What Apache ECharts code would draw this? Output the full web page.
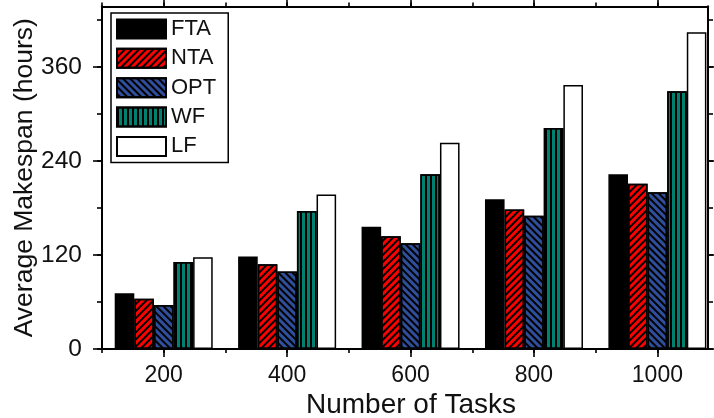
<!DOCTYPE html>
<html>
<head>
<meta charset="utf-8">
<script src="https://cdn.jsdelivr.net/npm/echarts@6/dist/echarts.min.js"></script>
<style>
  html, body { margin: 0; padding: 0; background: #fff; }
  #chart { width: 714px; height: 418px; }
</style>
</head>
<body>
<div id="chart"></div>
<script>
// Number of tasks on the x axis
const tasks = [200, 400, 600, 800, 1000];

// Average makespan (hours) per scheduling strategy
const FTA = [71, 118, 156, 191, 223];
const NTA = [64, 108, 144, 178, 211];
const OPT = [56, 99, 135, 170, 200];
const WF  = [111, 176, 223, 282, 329];
const LF  = [117, 197, 263, 337, 404];

// Tick positions
const xMajor = [200, 400, 600, 800, 1000];
const xMinor = [100, 200, 300, 400, 500, 600, 700, 800, 900, 1000];
const yMajor = [0, 120, 240, 360];
const yMinor = [0, 60, 120, 180, 240, 300, 360, 420];

const FONT = "'Liberation Sans', Arial, Helvetica, sans-serif";
const INK = '#111';

function pairs(vals) {
  return tasks.map((t, i) => [t, vals[i]]);
}

// diagonal hatching, black lines over the fill colour
const stripes = (rotation) => ({
  symbol: 'rect',
  symbolSize: 1,
  color: '#000',
  dashArrayX: [1, 0],
  dashArrayY: [1.5, 3],
  rotation: rotation
});

// vertical black lines
const verticalLines = {
  symbol: 'rect',
  symbolSize: 1,
  color: '#000',
  dashArrayX: [1.4, 3],
  dashArrayY: [1, 0],
  rotation: 0
};

function barSeries(name, vals, color, decal) {
  const itemStyle = { color: color, borderColor: '#000', borderWidth: 1.5 };
  if (decal) itemStyle.decal = decal;
  return {
    name: name,
    type: 'bar',
    xAxisIndex: 1,
    yAxisIndex: 1,
    barWidth: 19.6,
    barGap: '0%',
    data: pairs(vals),
    itemStyle: itemStyle,
    emphasis: { disabled: true }
  };
}

const lineStyle = { color: '#000', width: 2 };
const tickStyle = { color: '#000', width: 1.6 };

function xAx(position, ticks, length, withLabels) {
  const ax = {
    type: 'value',
    position: position,
    min: 100,
    max: 1082,
    axisLine: { show: true, onZero: false, lineStyle: lineStyle },
    axisTick: { show: true, customValues: ticks, length: length, inside: false, lineStyle: tickStyle },
    axisLabel: { show: false },
    splitLine: { show: false }
  };
  if (withLabels) {
    ax.axisLabel = {
      show: true,
      customValues: xMajor,
      formatter: (v) => String(v),
      margin: 15,
      fontFamily: FONT,
      fontSize: 23,
      color: INK
    };
    ax.name = 'Number of Tasks';
    ax.nameLocation = 'middle';
    ax.nameGap = 42;
    ax.nameMoveOverlap = false;
    ax.nameTextStyle = { fontFamily: FONT, fontSize: 28, color: INK, padding: [0, 0, 0, 12] };
  }
  return ax;
}

function yAx(position, ticks, length, withLabels) {
  const ax = {
    type: 'value',
    position: position,
    min: 0,
    max: 437,
    axisLine: { show: true, onZero: false, lineStyle: lineStyle },
    axisTick: { show: true, customValues: ticks, length: length, inside: false, lineStyle: tickStyle },
    axisLabel: { show: false },
    splitLine: { show: false }
  };
  if (withLabels) {
    ax.axisLabel = {
      show: true,
      customValues: yMajor,
      formatter: (v) => String(v),
      margin: 20,
      fontFamily: FONT,
      fontSize: 24.5,
      color: INK
    };
    ax.name = 'Average Makespan (hours)';
    ax.nameLocation = 'middle';
    ax.nameRotate = 90;
    ax.nameGap = 64;
    ax.nameMoveOverlap = false;
    ax.nameTextStyle = { fontFamily: FONT, fontSize: 26.5, color: INK };
  }
  return ax;
}

const chart = echarts.init(document.getElementById('chart'), null, { renderer: 'canvas' });

chart.setOption({
  animation: false,
  backgroundColor: '#fff',
  grid: {
    left: 102, right: 6, top: 6.5, bottom: 69,
    containLabel: false,
    outerBoundsMode: 'none'
  },
  legend: {
    orient: 'vertical',
    left: 111,
    top: 13,
    padding: [5, 12, 5, 5],
    itemWidth: 49,
    itemHeight: 19,
    itemGap: 7.35,
    icon: 'rect',
    borderColor: '#000',
    borderWidth: 1.5,
    backgroundColor: '#fff',
    textStyle: { fontFamily: FONT, fontSize: 22, color: INK },
    data: ['FTA', 'NTA', 'OPT', 'WF', 'LF']
  },
  xAxis: [
    xAx('bottom', xMinor, 4, false),
    xAx('bottom', xMajor, 8, true),
    xAx('top', xMinor, 4, false),
    xAx('top', xMajor, 8, false)
  ],
  yAxis: [
    yAx('left', yMinor, 5, false),
    yAx('left', yMajor, 9, true),
    yAx('right', yMinor, 5, false),
    yAx('right', yMajor, 9, false)
  ],
  series: [
    barSeries('FTA', FTA, '#000000', null),
    barSeries('NTA', NTA, '#ff0000', stripes(-Math.PI / 4)),
    barSeries('OPT', OPT, '#2f4e9c', stripes(Math.PI / 4)),
    barSeries('WF', WF, '#00806e', verticalLines),
    barSeries('LF', LF, '#ffffff', null)
  ]
});
</script>
</body>
</html>
